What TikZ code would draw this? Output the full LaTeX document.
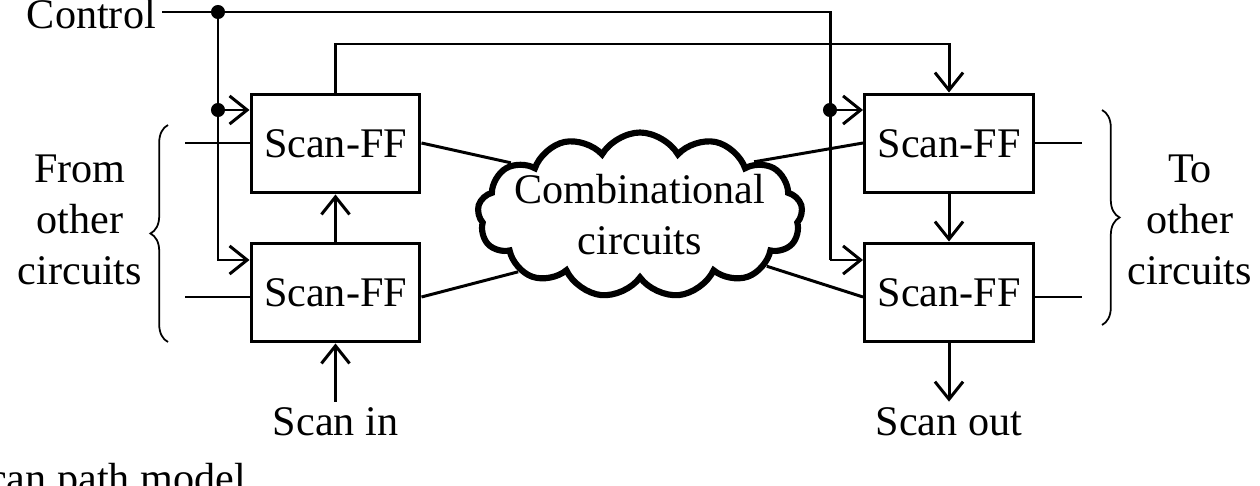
\documentclass[tikz,border=0pt]{standalone}
\usepackage{fontspec}
\setmainfont{Liberation Serif}
\usetikzlibrary{arrows.meta,shapes.symbols,decorations.pathreplacing}
\tikzset{
  ff/.style={draw,line width=1.7pt,minimum width=3.38cm,minimum height=1.98cm,inner sep=0pt},
  wire/.style={line width=1.7pt},
  arr/.style={wire,-{Straight Barb[length=10pt,width=16pt,line width=1.7pt]}},
  dot/.style={circle,fill,inner sep=0pt,minimum size=8pt},
  brc/.style={decorate,decoration={brace,amplitude=10pt},line width=1pt}
}
\begin{document}
\begin{tikzpicture}[x=0.02cm,y=-0.02cm,font=\fontsize{24}{29}\selectfont]
\useasboundingbox (0,0) rectangle (1260,486);
\node[ff] (ul) at (335.5,143.5) {Scan-FF};
\node[ff] (ll) at (335.5,292.5) {Scan-FF};
\node[ff] (ur) at (949,143.5) {Scan-FF};
\node[ff] (lr) at (949,292.5) {Scan-FF};
\node[cloud,draw,line width=3.5pt,cloud puffs=13,cloud puff arc=120,aspect=2,minimum width=6.5cm,minimum height=3.3cm,inner sep=0pt] (comb) at (640,215) {};
\node[align=center] (combtxt) at (comb.center) {Combinational\\circuits};
\node[anchor=east] (ctl) at (162,14) {Control};
\node (sin) at (335.5,422) {Scan in};
\node (sout) at (949,422) {Scan out};
\node[align=center] (from) at (80,220) {From\\other\\circuits};
\node[align=center] (to) at (1190,220) {To\\other\\circuits};
\node[anchor=base east] (cap) at (252,492) {Scan path model};
\coordinate (c1) at (218,12);
\coordinate (c2) at (218,110);
\coordinate (c3) at (830,110);
% control lines
\draw[wire] (ctl.east |- 0,12) -- (830,12) -- (830,260);
\draw[arr] (c1) -- (218,260) -- (ll.west |- 0,260);
\draw[arr] (c2) -- (ul.west |- 0,110);
\draw[arr] (c3) -- (ur.west |- 0,110);
\draw[arr] (830,260) -- (lr.west |- 0,260);
\node[dot] at (c1) {};
\node[dot] at (c2) {};
\node[dot] at (c3) {};
% scan chain
\draw[arr] (ul.north) -- (335.5,44) -- (949,44) -- (ur.north);
\draw[arr] (ll) -- (ul);
\draw[arr] (sin) -- (ll);
\draw[arr] (ur) -- (lr);
\draw[arr] (lr) -- (sout);
% data
\draw[wire] (185,143) -- (ul.west |- 0,143);
\draw[wire] (185,297) -- (ll.west |- 0,297);
\draw[wire] (ur.east |- 0,143) -- (1082,143);
\draw[wire] (lr.east |- 0,297) -- (1082,297);
\draw[wire] (ul.east |- 0,143) -- (comb.158);
\draw[wire] (ll.east |- 0,297) -- (comb.205);
\draw[wire] (ur.west |- 0,143) -- (comb.25);
\draw[wire] (lr.west |- 0,297) -- (comb.-22);
\draw[brc] (168,342) -- (168,125);
\draw[brc] (1102,110) -- (1102,325);
\end{tikzpicture}
\end{document}
